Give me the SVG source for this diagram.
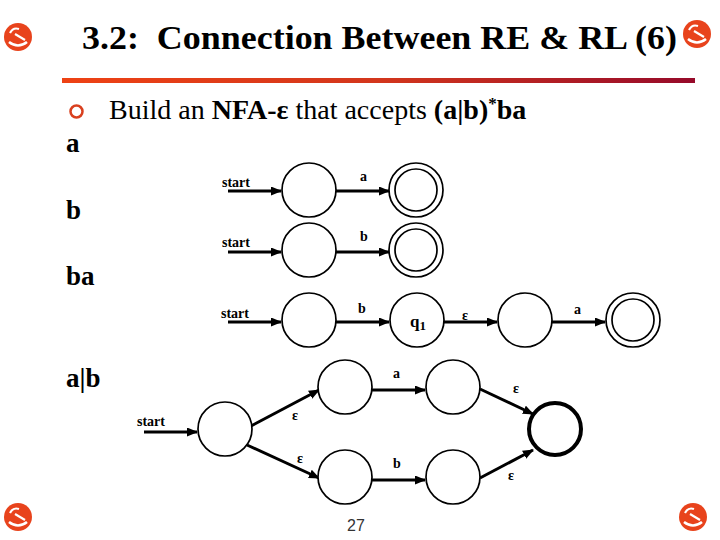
<svg xmlns="http://www.w3.org/2000/svg" xmlns:xlink="http://www.w3.org/1999/xlink" width="720" height="540" viewBox="0 0 720 540">
<style>
.s{fill:#fff;stroke:#000;stroke-width:1.7}
.f{fill:#fff;stroke:#000;stroke-width:4}
.e{stroke:#000;stroke-width:3;fill:none;marker-end:url(#ah)}
.l{font-family:"Liberation Serif",serif;font-weight:bold;font-size:14px;fill:#000}
.big{font-family:"Liberation Serif",serif;font-weight:bold;font-size:27px;fill:#000}
</style>
<defs>
<marker id="ah" markerUnits="userSpaceOnUse" markerWidth="11" markerHeight="9" refX="10" refY="4.5" orient="auto">
<path d="M0,0 L11,4.5 L0,9 z" fill="#000"/>
</marker>
<linearGradient id="bar" x1="0" x2="1" y1="0" y2="0">
<stop offset="0" stop-color="#ee4214"/>
<stop offset="0.5" stop-color="#d3361c"/>
<stop offset="1" stop-color="#960a2a"/>
</linearGradient>
<g id="ico">
<circle r="14" fill="#e8431c"/>
<path d="M-8,-4 q3,-6 9,-4" stroke="#fff" stroke-width="2.2" fill="none"/>
<path d="M-3,-3 L7,3" stroke="#fff" stroke-width="2.2"/>
<path d="M-9,5 q9,7 18,0" stroke="#fff" stroke-width="2.6" fill="none"/>
</g>
</defs>
<rect width="720" height="540" fill="#fff"/>

<use xlink:href="#ico" x="18" y="37"/>
<use xlink:href="#ico" x="697" y="34"/>
<use xlink:href="#ico" x="18" y="517"/>
<use xlink:href="#ico" x="693" y="517"/>

<text x="82" y="49" font-family="Liberation Serif, serif" font-weight="bold" font-size="33" textLength="595" lengthAdjust="spacingAndGlyphs" xml:space="preserve">3.2:  Connection Between RE &amp; RL (6)</text>
<rect x="62" y="78" width="633" height="5" fill="url(#bar)"/>

<circle cx="76.5" cy="111.5" r="6" fill="none" stroke="#d9401f" stroke-width="2.5"/>
<text x="109" y="119" font-family="Liberation Serif, serif" font-size="28" xml:space="preserve">Build an <tspan font-weight="bold">NFA-ε</tspan> that accepts <tspan font-weight="bold">(a|b)</tspan><tspan font-weight="bold" font-size="17" dy="-10">*</tspan><tspan font-weight="bold" dy="10">ba</tspan></text>

<text class="big" x="66" y="152">a</text>
<text class="big" x="66" y="219">b</text>
<text class="big" x="66" y="285">ba</text>
<text class="big" x="66" y="387">a|b</text>

<g id="connectors">
<line class="e" x1="228" y1="191" x2="281" y2="191"/>
<line class="e" x1="336" y1="191" x2="389" y2="191"/>
<line class="e" x1="228" y1="252" x2="281" y2="252"/>
<line class="e" x1="336" y1="252" x2="389" y2="252"/>
<line class="e" x1="228" y1="322" x2="281" y2="322"/>
<line class="e" x1="336" y1="322" x2="389" y2="322"/>
<line class="e" x1="444" y1="322" x2="497" y2="322"/>
<line class="e" x1="552" y1="322" x2="605" y2="322"/>
<line class="e" x1="144" y1="432" x2="197" y2="432"/>
<line class="e" x1="251" y1="426" x2="319" y2="390"/>
<line class="e" x1="247" y1="445" x2="319" y2="478"/>
<line class="e" x1="372" y1="390" x2="425" y2="390"/>
<line class="e" x1="372" y1="480" x2="425" y2="480"/>
<line class="e" x1="480" y1="389" x2="533" y2="414"/>
<line class="e" x1="480" y1="478" x2="533" y2="450"/>
</g>

<g id="labels">
<text class="l" x="222" y="187">start</text>
<text class="l" x="360" y="181">a</text>
<text class="l" x="222" y="247">start</text>
<text class="l" x="360" y="241">b</text>
<text class="l" x="221" y="318">start</text>
<text class="l" x="358" y="313">b</text>
<text class="l" x="462" y="320">ε</text>
<text class="l" x="574" y="314">a</text>
<text class="l" x="137" y="426">start</text>
<text class="l" x="292" y="420">ε</text>
<text class="l" x="297" y="463">ε</text>
<text class="l" x="393" y="378">a</text>
<text class="l" x="393" y="468">b</text>
<text class="l" x="513" y="393">ε</text>
<text class="l" x="508" y="480">ε</text>
</g>

<g id="a0"><circle class="s" cx="309" cy="190" r="27"/></g>
<g id="a1"><circle class="s" cx="416" cy="190" r="27"/><circle class="s" cx="416" cy="190" r="21"/></g>
<g id="b0"><circle class="s" cx="309" cy="250" r="27"/></g>
<g id="b1"><circle class="s" cx="416" cy="250" r="27"/><circle class="s" cx="416" cy="250" r="21"/></g>
<g id="ba0"><circle class="s" cx="309" cy="320" r="27"/></g>
<g id="q1"><circle class="s" cx="417" cy="320" r="27"/><text x="410" y="327" font-family="Liberation Serif, serif" font-weight="bold" font-size="17">q<tspan font-size="13" dy="3">1</tspan></text></g>
<g id="ba2"><circle class="s" cx="525" cy="320" r="27"/></g>
<g id="ba3"><circle class="s" cx="633" cy="320" r="27"/><circle class="s" cx="633" cy="320" r="21"/></g>
<g id="ab0"><circle class="s" cx="225" cy="429" r="27"/></g>
<g id="ab1"><circle class="s" cx="345" cy="387" r="27"/></g>
<g id="ab2"><circle class="s" cx="453" cy="387" r="27"/></g>
<g id="ab3"><circle class="s" cx="345" cy="477" r="27"/></g>
<g id="ab4"><circle class="s" cx="453" cy="477" r="27"/></g>
<g id="ab5"><circle class="f" cx="555" cy="429" r="26"/></g>

<text x="356" y="531" text-anchor="middle" font-family="Liberation Sans, sans-serif" font-size="16" fill="#333">27</text>
</svg>
